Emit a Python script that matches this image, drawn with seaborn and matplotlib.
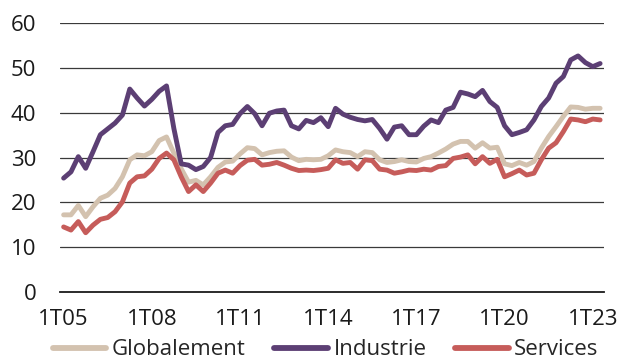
import numpy as np
import pandas as pd
import seaborn as sns
import matplotlib.pyplot as plt

# quarterly series, 1T05 .. 2T23
quarters = ['%dT%02d' % (q, y) for y in range(5, 24) for q in range(1, 5)][:74]

globalement = [17.2, 17.2, 19.3, 16.8, 19.0, 20.9, 21.6, 23.1, 25.7, 29.5,
               30.6, 30.4, 31.3, 33.8, 34.6, 31.0, 27.5, 24.5, 24.9, 23.9,
               25.7, 27.8, 29.0, 29.2, 30.8, 32.2, 32.0, 30.6, 31.1, 31.4,
               31.5, 30.1, 29.3, 29.6, 29.5, 29.6, 30.4, 31.7, 31.3, 31.1,
               30.2, 31.3, 31.1, 29.5, 28.9, 29.1, 29.5, 29.1, 29.0, 29.8,
               30.2, 31.0, 31.9, 33.0, 33.6, 33.6, 32.1, 33.3, 32.1, 32.3,
               28.6, 28.2, 28.9, 28.3, 29.1, 32.1, 34.7, 36.9, 39.2, 41.3,
               41.2, 40.8, 41.0, 41.0]
industrie = [25.4, 26.8, 30.2, 27.6, 31.3, 35.1, 36.4, 37.7, 39.5, 45.3,
             43.3, 41.5, 43.0, 44.8, 46.0, 36.5, 28.6, 28.3, 27.3, 28.0,
             30.0, 35.6, 37.1, 37.4, 39.8, 41.4, 39.8, 37.1, 39.9, 40.4,
             40.6, 37.1, 36.4, 38.3, 37.8, 38.9, 36.9, 41.0, 39.7, 39.0,
             38.5, 38.2, 38.5, 36.5, 34.1, 36.8, 37.1, 35.1, 35.1, 37.0,
             38.4, 37.8, 40.6, 41.2, 44.6, 44.2, 43.6, 45.0, 42.5, 41.2,
             37.1, 35.1, 35.6, 36.2, 38.4, 41.4, 43.3, 46.6, 48.1, 51.8,
             52.7, 51.2, 50.3, 51.0]
services = [14.5, 13.8, 15.7, 13.2, 14.9, 16.2, 16.6, 17.9, 20.1, 24.3,
            25.7, 25.9, 27.4, 29.8, 31.0, 29.5, 25.7, 22.4, 23.9, 22.4,
            24.3, 26.5, 27.2, 26.5, 28.2, 29.4, 29.6, 28.3, 28.5, 28.9,
            28.3, 27.6, 27.1, 27.2, 27.1, 27.3, 27.6, 29.5, 28.7, 28.9,
            27.4, 29.5, 29.3, 27.4, 27.2, 26.5, 26.8, 27.2, 27.1, 27.4,
            27.2, 28.0, 28.2, 29.8, 30.1, 30.6, 28.6, 30.2, 28.7, 29.6,
            25.7, 26.4, 27.2, 26.1, 26.5, 29.5, 32.1, 33.3, 35.8, 38.6,
            38.4, 38.0, 38.6, 38.4]

series_names = ['Globalement', 'Industrie', 'Services']
colors = {'Globalement': '#d3c2af', 'Industrie': '#5c3f74', 'Services': '#c65c5a'}

n = len(quarters)
df = pd.DataFrame({
    'x': list(range(n)) * 3,
    'valeur': globalement + industrie + services,
    'serie': [s for s in series_names for _ in range(n)],
})

sns.set_style('white')
plt.rcParams['font.family'] = ['Open Sans', 'DejaVu Sans']

fig = plt.figure(figsize=(6.18, 3.63), dpi=100)
ax = fig.add_axes([0.097, 0.196, 0.880, 0.740])

sns.lineplot(data=df, x='x', y='valeur', hue='serie', hue_order=series_names,
             palette=colors, linewidth=3.5, ax=ax, legend=False, zorder=3)

ax.set_xlim(-0.5, n - 0.5)
ax.set_ylim(0, 60)
ax.set_yticks(range(0, 61, 10))
for v in range(10, 61, 10):
    ax.axhline(v, color='#3a3a3a', lw=0.9, zorder=1)

major = list(range(0, n, 12))
ax.set_xticks(major)
ax.set_xticklabels([quarters[i] for i in major])
ax.set_xticks(np.arange(1.5, n, 4), minor=True)
ax.tick_params(axis='x', which='major', length=0, pad=12, labelsize=16, colors='#1a1a1a')
ax.tick_params(axis='x', which='minor', length=5, width=1.2, direction='out', color='#1a1a1a')
ax.tick_params(axis='y', length=0, pad=17, labelsize=16, colors='#1a1a1a')

for s in ['top', 'right', 'left']:
    ax.spines[s].set_visible(False)
ax.spines['bottom'].set_color('#1a1a1a')
ax.spines['bottom'].set_linewidth(1.3)
ax.set_xlabel('')
ax.set_ylabel('')

handles = [plt.Line2D([], [], color=colors[s], lw=4.2, solid_capstyle='round') for s in series_names]
fig.legend(handles, series_names, loc='center', bbox_to_anchor=(0.527, 0.036), ncol=3,
           frameon=False, fontsize=16, handlelength=2.4, handletextpad=0.25,
           columnspacing=1.3, borderpad=0, borderaxespad=0)

fig.savefig('out.png', dpi=100)
